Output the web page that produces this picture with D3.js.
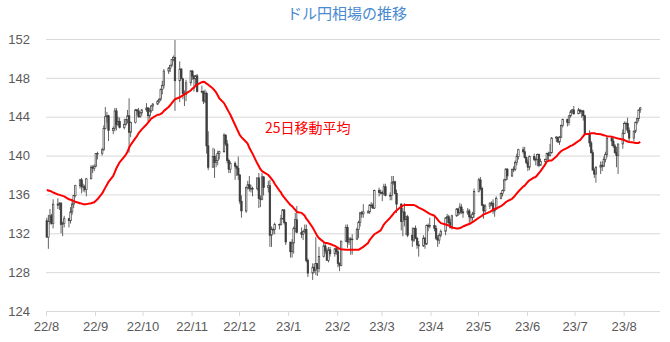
<!DOCTYPE html>
<html><head><meta charset="utf-8">
<script src="https://cdn.jsdelivr.net/npm/d3@7"></script>
<style>body{margin:0;background:#fff}svg{display:block}</style>
</head><body><svg id="c" width="670" height="342"></svg>
<script>
const title = "ドル円相場の推移";
const maLabel = "25日移動平均";
const startDate = "2022-08-01";
const axisEnd = "2023-08-24";
const yTicks = [124,128,132,136,140,144,148,152];
const monthTicks = ["2022-08-01","2022-09-01","2022-10-01","2022-11-01","2022-12-01","2023-01-01","2023-02-01","2023-03-01","2023-04-01","2023-05-01","2023-06-01","2023-07-01","2023-08-01"];
const monthLabels = ["22/8","22/9","22/10","22/11","22/12","23/1","23/2","23/3","23/4","23/5","23/6","23/7","23/8"];

// one entry per trading day (Mon-Fri) from 2022-08-01
const open = [
133.3,131.6,133.2,133.8,133.0,135.0,134.9,135.1,132.9,133.0,133.5,133.3,134.2,135.0,135.9,136.9,137.5,136.8,136.8,136.5,137.6,138.8,138.7,
138.9,140.2,140.2,140.6,142.8,144.0,144.1,142.6,142.8,144.6,143.2,143.5,142.9,143.2,143.7,144.1,142.4,143.4,144.7,144.6,144.0,144.4,
144.7,144.9,144.1,144.6,145.1,145.3,145.6,145.8,146.8,147.2,148.7,149.0,149.3,149.9,150.1,147.7,148.9,147.9,146.4,146.3,147.5,
148.7,148.2,147.9,148.2,146.6,146.6,145.6,146.4,141.0,138.8,139.9,139.3,139.5,140.2,140.4,142.1,141.2,139.5,138.6,139.2,138.9,138.7,
138.0,135.3,134.3,136.7,137.0,136.6,136.6,136.6,137.7,135.6,135.5,137.8,136.7,136.9,131.8,132.4,132.4,132.9,132.9,133.5,134.4,133.1,
131.1,130.1,131.0,132.5,133.4,132.1,131.9,132.2,132.4,129.2,127.9,128.5,128.2,128.9,128.4,129.6,130.7,130.2,129.2,130.3,129.9,130.4,
130.1,128.9,128.7,131.2,132.6,131.1,131.4,131.4,131.4,132.4,133.1,134.1,134.0,134.2,134.2,134.9,134.9,134.6,136.4,136.2,
136.2,136.1,136.8,135.9,135.9,137.2,137.3,136.1,135.0,133.2,134.2,133.4,133.7,131.8,131.3,132.5,131.5,130.8,130.7,131.5,130.9,132.8,132.7,
132.8,132.5,131.5,131.3,131.8,132.2,133.6,133.7,133.1,132.6,133.8,134.5,134.1,134.7,134.2,134.1,134.3,133.7,133.6,134.0,
136.3,137.5,136.6,134.9,134.3,134.8,135.1,135.1,134.3,134.5,135.6,136.1,136.4,137.5,138.6,137.9,138.6,138.6,139.3,139.9,140.6,140.4,139.8,
139.3,138.8,139.9,139.6,139.6,140.1,139.0,139.4,139.6,140.2,140.0,140.3,141.8,141.9,141.4,141.9,143.1,143.7,143.4,144.1,144.5,144.7,
144.3,144.7,144.5,144.6,144.1,142.2,141.3,140.3,138.5,138.1,138.8,139.0,138.9,139.6,140.1,141.8,141.5,141.0,140.3,140.0,141.2,
142.3,143.3,143.3,142.6,141.8,142.5,143.4,143.8,144.7];
const high = [
133.6,133.9,134.5,134.0,135.5,135.6,135.2,135.2,133.2,133.8,133.6,134.7,135.5,135.9,137.0,137.6,137.7,137.1,137.0,137.7,139.0,139.0,139.1,
140.2,140.4,140.8,143.1,145.0,144.5,144.2,143.0,144.9,144.9,144.0,143.9,143.8,143.7,144.7,145.9,143.5,144.8,144.8,144.9,144.5,144.8,
145.4,145.0,144.9,145.2,145.4,145.7,145.9,146.9,147.7,148.9,149.1,149.3,149.9,150.3,151.9,149.7,149.0,148.0,146.7,147.8,148.8,
148.8,148.3,148.3,148.4,147.2,146.7,146.8,146.6,142.5,140.8,140.7,140.1,140.5,140.5,142.3,142.2,141.6,139.7,139.4,139.4,139.0,139.9,
138.1,135.9,136.8,137.4,137.9,137.0,136.8,137.7,138.2,135.9,138.2,137.9,137.4,137.5,132.7,132.6,133.1,133.0,133.9,134.5,134.5,133.2,
131.1,131.4,132.7,134.1,134.8,132.6,132.3,132.9,132.9,129.4,128.9,128.9,131.6,128.9,130.6,131.1,130.9,130.5,130.6,130.6,130.5,130.5,
130.5,129.0,131.2,132.9,132.9,131.6,131.6,131.9,132.6,133.3,134.2,134.3,135.0,134.4,135.0,135.2,135.1,136.5,136.7,136.5,
136.4,137.1,137.1,136.2,137.9,137.9,137.4,136.5,135.1,134.6,135.1,133.8,133.9,132.6,132.6,132.8,131.6,131.2,131.8,131.6,132.9,133.0,133.6,
133.8,132.8,131.8,132.0,132.4,133.6,134.0,133.9,133.5,133.9,134.6,134.6,135.1,135.0,134.5,134.6,134.5,133.9,134.2,136.6,
137.7,137.8,136.8,135.0,135.0,135.2,135.3,135.5,134.6,135.8,136.2,136.5,137.6,138.7,138.7,138.6,138.9,139.5,140.2,140.7,140.9,140.9,139.9,
139.6,140.0,140.2,139.8,140.2,140.2,139.7,139.7,140.3,140.4,141.2,141.9,142.0,141.9,142.0,143.2,143.8,143.8,144.1,144.7,144.8,145.1,
144.9,144.7,144.7,144.7,144.2,142.6,141.5,140.6,138.7,138.9,139.4,139.4,139.9,140.4,141.9,141.9,141.8,141.2,140.9,141.2,142.7,
143.5,143.5,143.9,142.9,142.6,143.5,143.9,144.7,145.0];
const low = [
131.6,130.4,132.9,132.9,132.5,134.5,134.4,132.0,131.7,132.6,132.6,133.0,133.9,134.6,135.7,136.6,136.1,136.3,136.2,135.8,137.6,138.2,138.4,
138.8,139.6,140.0,140.5,142.7,143.4,141.5,142.2,142.5,142.6,143.0,142.8,142.7,143.1,143.3,140.3,141.9,143.3,144.2,143.9,143.9,144.1,
144.5,143.5,143.8,144.4,144.6,145.2,145.4,145.6,146.3,146.9,148.4,148.6,149.1,149.7,144.6,145.5,147.9,145.8,145.1,145.6,147.2,
147.8,146.6,147.2,146.5,146.4,145.3,145.4,140.2,138.5,138.8,137.7,138.8,139.0,139.6,140.3,141.0,139.2,138.2,138.2,137.5,137.9,137.5,
135.0,133.6,134.1,136.5,136.3,136.2,135.8,136.4,134.6,134.7,135.4,135.9,136.2,130.6,130.6,131.9,131.9,132.4,132.8,133.4,132.9,130.8,
129.5,129.5,129.9,132.1,132.0,131.5,131.3,132.0,129.0,127.5,127.2,127.9,127.7,127.6,128.0,129.5,129.9,129.2,129.0,129.6,129.6,129.8,
128.5,128.1,128.6,131.1,130.5,130.8,129.8,129.8,131.3,131.5,132.7,133.6,133.6,134.0,134.0,134.6,134.5,134.5,135.8,136.0,
135.3,135.9,135.8,135.4,135.4,137.0,136.0,134.1,132.3,131.7,132.7,131.8,131.6,130.6,131.1,131.4,130.4,129.6,130.6,130.4,130.8,132.2,132.5,
132.2,131.3,130.6,130.9,131.6,131.8,133.0,132.9,132.5,132.4,133.7,133.8,133.9,134.0,133.6,133.9,133.0,133.2,133.3,133.6,
136.2,136.4,134.8,133.5,133.9,134.5,134.8,134.0,133.7,134.4,135.5,135.8,136.3,137.4,137.5,137.8,138.3,138.4,139.0,139.6,140.2,139.7,139.1,
138.4,138.5,139.4,139.0,138.9,138.8,139.0,139.1,139.5,139.4,139.9,140.2,141.4,141.3,141.1,141.8,142.9,143.0,143.1,143.9,144.3,144.2,
144.3,144.3,143.9,143.6,142.1,140.9,140.2,138.5,137.7,137.2,138.1,138.4,138.8,139.3,139.8,141.0,140.8,140.2,138.8,138.1,140.7,
142.2,142.7,142.3,141.5,141.5,142.3,143.2,143.5,144.4];
const close = [
131.6,133.2,133.8,133.0,135.0,134.9,135.1,132.9,133.0,133.5,133.3,134.2,135.0,135.9,136.9,137.5,136.8,136.8,136.5,137.6,138.8,138.7,138.9,
140.2,140.2,140.6,142.8,144.0,144.1,142.6,142.8,144.6,143.2,143.5,142.9,143.2,143.7,144.1,142.4,143.4,144.7,144.6,144.0,144.4,144.7,
144.9,144.1,144.6,145.1,145.3,145.6,145.8,146.8,147.2,148.7,149.0,149.3,149.9,150.1,147.7,148.9,147.9,146.4,146.3,147.5,148.7,
148.2,147.9,148.2,146.6,146.6,145.6,146.4,141.0,138.8,139.9,139.3,139.5,140.2,140.4,142.1,141.2,139.5,138.6,139.2,138.9,138.7,138.0,
135.3,134.3,136.7,137.0,136.6,136.6,136.6,137.7,135.6,135.5,137.8,136.7,136.9,131.8,132.4,132.4,132.9,132.9,133.5,134.4,133.1,131.1,
130.1,131.0,132.5,133.4,132.1,131.9,132.2,132.4,129.2,127.9,128.5,128.2,128.9,128.4,129.6,130.7,130.2,129.2,130.3,129.9,130.4,130.1,
128.9,128.7,131.2,132.6,131.1,131.4,131.4,131.4,132.4,133.1,134.1,134.0,134.2,134.2,134.9,134.9,134.6,136.4,136.2,136.2,
136.1,136.8,135.9,135.9,137.2,137.3,136.1,135.0,133.2,134.2,133.4,133.7,131.8,131.3,132.5,131.5,130.8,130.7,131.5,130.9,132.8,132.7,132.8,
132.5,131.5,131.3,131.8,132.2,133.6,133.7,133.1,132.6,133.8,134.5,134.1,134.7,134.2,134.1,134.3,133.7,133.6,134.0,136.3,
137.5,136.6,134.9,134.3,134.8,135.1,135.1,134.3,134.5,135.6,136.1,136.4,137.5,138.6,137.9,138.6,138.6,139.3,139.9,140.6,140.4,139.8,139.3,
138.8,139.9,139.6,139.6,140.1,139.0,139.4,139.6,140.2,140.0,140.3,141.8,141.9,141.4,141.9,143.1,143.7,143.4,144.1,144.5,144.7,144.3,
144.7,144.5,144.6,144.1,142.2,141.3,140.3,138.5,138.1,138.8,139.0,138.9,139.6,140.1,141.8,141.5,141.0,140.3,140.0,141.2,142.3,
143.3,143.3,142.6,141.8,142.5,143.4,143.8,144.7,144.9];
const ma25 = [
136.45,136.4,136.35,136.3,136.2, 136.0,135.95,135.9,135.85,135.8, 135.5,135.45,135.4,135.3,135.25, 135.1,135.05,135.0,135.0,135.0,
135.1,135.15,135.2,135.35,135.5, 136.1,136.4,136.7,137.0,137.3, 137.9,138.3,138.7,139.0,139.3, 139.9,140.1,140.4,140.8,141.1,
141.8,142.0,142.3,142.5,142.7, 143.2,143.4,143.6,143.8,143.9, 144.2,144.2,144.3,144.4,144.6, 145.0,145.2,145.4,145.6,145.8,
146.0,146.1,146.2,146.3,146.4, 146.7,146.9,147.0,147.2,147.3, 147.55,147.6,147.55,147.4,147.3, 146.9,146.7,146.5,146.2,145.9,
145.4,145.1,144.8,144.5,144.2, 143.15,142.8,142.45,142.1,141.9, 141.4,141.2,140.8,140.5,140.2, 139.2,138.9,138.6,138.4,138.3,
138.0,137.8,137.6,137.4,137.1, 136.4,136.2,135.9,135.7,135.5, 134.9,134.8,134.6,134.4,134.2, 134.1,133.95,133.8,133.5,133.3,
132.6,132.3,132.0,131.7,131.5, 131.1,131.0,131.0,130.95,130.9, 130.7,130.6,130.5,130.4,130.35, 130.3,130.3,130.3,130.3,130.3,
130.3,130.3,130.4,130.5,130.6, 131.0,131.3,131.5,131.7,131.9, 132.2,132.3,132.6,132.9,133.1, 133.6,133.8,134.0,134.2,134.35,
134.75,134.85,134.9,134.9,134.9, 134.9,134.9,134.85,134.75,134.65, 134.4,134.3,134.2,134.1,134.0, 133.8,133.6,133.4,133.2,133.05,
132.9,132.85,132.8,132.7,132.6, 132.5,132.5,132.55,132.6,132.7, 132.9,132.95,133.05,133.15,133.25, 133.6,133.7,133.8,133.95,134.0,
134.2,134.3,134.4,134.5,134.55, 134.8,134.9,135.05,135.2,135.3, 135.55,135.7,135.9,136.1,136.3, 136.8,136.9,137.1,137.3,137.45,
137.75,137.8,138.0,138.2,138.4, 139.1,139.4,139.45,139.5,139.5, 139.9,140.1,140.3,140.45,140.55, 140.8,140.9,141.0,141.05,141.15,
141.5,141.6,141.8,142.0,142.2, 142.25,142.3,142.3,142.3,142.25, 142.2,142.15,142.1,142.05,142.0, 141.95,141.9,141.85,141.8,141.75,
141.65,141.6,141.5,141.45,141.4, 141.35,141.3,141.3,141.3,141.4];

const parse = d3.timeParse("%Y-%m-%d");
// trading-day calendar (weekdays) for the data rows
const dates = [];
{
  let d = parse(startDate);
  while (dates.length < open.length) {
    const wd = d.getDay();
    if (wd !== 0 && wd !== 6) dates.push(d);
    d = d3.timeDay.offset(d, 1);
  }
}
const rows = dates.map((d, i) => ({d, o: open[i], h: high[i], l: low[i], c: close[i], m: ma25[i]}));

const svg = d3.select("#c");
const W = 670, H = 342;
const L = 46, R = 660, T = 39, B = 311;
const x = d3.scaleTime().domain([parse(startDate), parse(axisEnd)]).range([L, R]);
const y = d3.scaleLinear().domain([124, 152]).range([B, T]);
const xc = d => x(d3.timeHour.offset(d, 12));

const font = "'Liberation Sans', Arial, sans-serif";

// title
svg.append("text").attr("x", 347).attr("y", 19).attr("text-anchor", "middle")
  .attr("font-family", "'Noto Sans CJK JP', sans-serif").attr("font-size", 15)
  .attr("fill", "#4A8AD0").text(title);

// y axis with gridlines
const gy = svg.append("g").attr("transform", `translate(${L},0)`)
  .call(d3.axisLeft(y).tickValues(yTicks).tickSize(-(R - L)).tickPadding(16).tickFormat(d3.format("d")));
gy.select(".domain").remove();
gy.selectAll(".tick line").attr("stroke", "#D9D9D9").attr("stroke-width", 1);
gy.selectAll(".tick text").attr("font-family", font).attr("font-size", 13).attr("fill", "#595959");

// x axis
const gx = svg.append("g").attr("transform", `translate(0,${B})`)
  .call(d3.axisBottom(x).tickValues(monthTicks.map(parse)).tickSize(5).tickPadding(6)
    .tickFormat((d, i) => monthLabels[i]));
gx.select(".domain").attr("stroke", "#D9D9D9").attr("d", `M${L},0.5H${R}`);
gx.selectAll(".tick line").attr("stroke", "#D9D9D9");
gx.selectAll(".tick text").attr("font-family", font).attr("font-size", 13).attr("fill", "#595959");

// candles
const ink = "#3C3C3C";
const cg = svg.append("g");
cg.selectAll("line.w").data(rows).join("line").attr("class", "w")
  .attr("x1", r => xc(r.d)).attr("x2", r => xc(r.d))
  .attr("y1", r => y(r.h)).attr("y2", r => y(r.l))
  .attr("stroke", ink).attr("stroke-width", 0.8);
const bw = 1.5;
cg.selectAll("rect").data(rows).join("rect")
  .attr("x", r => xc(r.d) - bw / 2).attr("width", bw)
  .attr("y", r => y(Math.max(r.o, r.c)))
  .attr("height", r => Math.max(0.6, Math.abs(y(r.o) - y(r.c))))
  .attr("fill", r => r.c >= r.o ? "#FFFFFF" : ink)
  .attr("stroke", ink).attr("stroke-width", 0.7);

// 25-day moving average
svg.append("path").datum(rows)
  .attr("d", d3.line().x(r => xc(r.d)).y(r => y(r.m)))
  .attr("fill", "none").attr("stroke", "#FF0000").attr("stroke-width", 2).attr("stroke-linejoin", "round");

svg.append("text").attr("x", 265).attr("y", 133)
  .attr("font-family", "'Noto Sans CJK JP', sans-serif").attr("font-size", 14)
  .attr("fill", "#FF0000").text(maLabel);
</script></body></html>
